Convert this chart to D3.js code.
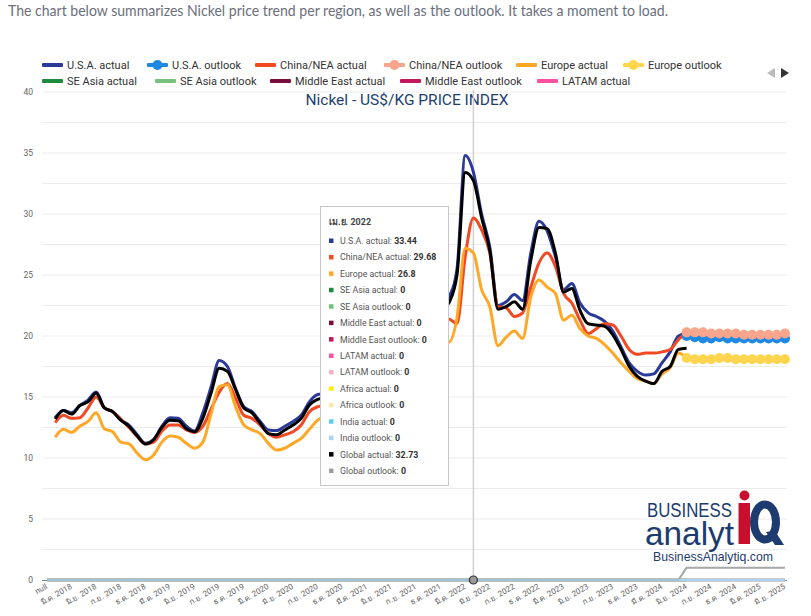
<!DOCTYPE html>
<html><head><meta charset="utf-8">
<script src="https://cdn.jsdelivr.net/npm/d3@7/dist/d3.min.js"></script>
<style>html,body{margin:0;padding:0;background:#fff;}svg{display:block;}</style>
</head><body>
<svg id="c" width="811" height="616"></svg>
<script>
// ---------- DATA ----------
const thMonths = ["ม.ค.","ก.พ.","มี.ค.","เม.ย.","พ.ค.","มิ.ย.","ก.ค.","ส.ค.","ก.ย.","ต.ค.","พ.ย.","ธ.ค."];
const categories = ["null"];
for (let y = 2018; y <= 2025; y++) for (let m = 0; m < 12; m++) { if (y === 2025 && m > 5) break; categories.push(thMonths[m] + " " + y); }
// actual series: Jan 2018 .. Jun 2024 (78 months)
const usaActual = [13.3,13.9,13.7,14.3,14.75,15.4,14.1,13.8,13.1,12.7,11.9,11.2,11.5,12.6,13.3,13.25,12.6,12.2,13.7,15.8,
 18.0,17.5,15.7,14.2,13.8,13.0,12.3,12.25,12.6,13.0,13.5,14.6,15.2,15.3,
 16.0,17.6,18.6,17.0,16.8,17.8,18.2,19.2,19.6,19.8,20.0,20.9,21.2,22.6,
 23.2,25.5,34.8,33.44,30.0,27.3,22.5,22.8,23.4,22.9,26.8,29.4,28.6,26.5,23.8,24.3,22.7,21.9,21.6,21.2,20.4,19.1,17.8,17.1,16.8,16.9,17.8,18.7,20.0,20.2];
const chinaActual = [12.9,13.5,13.25,13.3,14.1,15.0,14.1,13.8,13.2,12.5,11.75,11.15,11.3,12.2,12.7,12.7,12.3,12.1,12.6,14.0,
 15.4,16.1,14.9,13.5,13.25,12.7,12.0,11.7,11.9,12.15,12.7,13.8,14.2,14.35,
 15.0,16.3,17.2,16.0,15.8,16.6,17.0,18.0,18.4,18.6,18.8,19.6,19.9,21.0,
 21.4,21.0,26.5,29.68,28.7,26.8,22.4,22.3,21.6,21.9,24.0,26.0,26.8,25.7,23.5,22.7,21.3,20.2,20.6,21.0,20.9,20.0,18.9,18.5,18.6,18.6,18.7,18.9,19.7,20.3];
const europeActual = [11.7,12.35,12.1,12.6,13.0,13.7,12.4,12.15,11.3,11.15,10.4,9.85,10.25,11.3,11.8,11.7,11.2,10.8,11.3,13.6,
 15.85,16.0,14.2,12.7,12.3,12.0,11.2,10.65,10.8,11.2,11.6,12.35,13.1,13.5,
 14.2,15.4,16.2,15.0,14.8,15.6,16.0,17.0,17.4,17.6,17.8,18.6,18.9,19.8,
 19.5,21.5,27.2,26.8,23.8,22.4,19.2,19.9,20.4,19.8,23.2,24.6,24.0,23.5,21.3,21.7,20.6,20.0,19.8,19.3,18.6,17.8,17.1,16.5,16.3,16.1,16.9,17.4,18.6,18.2];
const globalActual = [13.2,13.9,13.6,14.3,14.6,15.3,14.1,13.8,13.1,12.6,11.8,11.15,11.5,12.5,13.1,13.05,12.4,12.15,13.25,15.3,
 17.35,17.1,15.6,14.1,13.7,12.85,12.0,11.9,12.3,12.7,13.25,14.35,14.8,15.0,
 15.7,17.2,18.2,16.7,16.5,17.5,17.9,18.9,19.3,19.5,19.7,20.5,20.8,22.0,
 22.7,25.0,33.4,32.73,29.7,27.0,22.2,22.4,22.8,22.2,26.2,28.9,28.8,26.8,23.6,23.9,22.1,21.0,20.9,20.8,20.1,18.9,17.5,16.7,16.3,16.1,17.1,17.5,18.9,19.0];
// outlook series: Jun 2024 .. Jun 2025 (13 months)
const usaOutlook    = [20.0,19.9,19.8,19.8,19.9,19.8,19.8,19.8,19.8,19.8,19.8,19.8,19.8];
const chinaOutlook  = [20.3,20.3,20.3,20.2,20.2,20.2,20.2,20.1,20.1,20.1,20.1,20.1,20.2];
const europeOutlook = [18.2,18.1,18.1,18.1,18.2,18.2,18.1,18.1,18.1,18.1,18.1,18.1,18.1];
const globalOutlookLevel = 1.0; // from Jun 2024 on, 0 before
const yTicks = [0,5,10,15,20,25,30,35,40];
const hoverIndex = 52; // เม.ย. 2022
const tooltipRows = [
 ["U.S.A. actual","33.44","#2b3a98"],["China/NEA actual","29.68","#f04923"],["Europe actual","26.8","#ffa726"],
 ["SE Asia actual","0","#1e8a3c"],["SE Asia outlook","0","#74c27c"],["Middle East actual","0","#7b0d3e"],
 ["Middle East outlook","0","#c2185b"],["LATAM actual","0","#ff4fa0"],["LATAM outlook","0","#f8b0cc"],
 ["Africa actual","0","#fff200"],["Africa outlook","0","#fde6ad"],["India actual","0","#5ecde6"],
 ["India outlook","0","#a6d4f7"],["Global actual","32.73","#000000"],["Global outlook","0","#a0a0a0"]];
const legendItems = [
 ["U.S.A. actual","#2b3a98",false],["U.S.A. outlook","#1e88e5",true],["China/NEA actual","#f04923",false],
 ["China/NEA outlook","#f8a58d",true],["Europe actual","#ffa726",false],["Europe outlook","#ffd54f",true],
 ["SE Asia actual","#1e8a3c",false],["SE Asia outlook","#74c27c",false],["Middle East actual","#7b0d3e",false],
 ["Middle East outlook","#c2185b",false],["LATAM actual","#ff4fa0",false]];

// ---------- SCALES ----------
const svg = d3.select("#c");
const x = d3.scalePoint().domain(categories).range([47, 785]);
const y = d3.scaleLinear().domain([0, 40]).range([580, 92]);
const xi = i => x(categories[i]);

// caption
svg.append("text").attr("x", 8).attr("y", 16).attr("font-family", "Lato, 'Open Sans', sans-serif")
  .attr("font-size", 15).attr("fill", "#6b6f7b").attr("textLength", 660).attr("lengthAdjust", "spacingAndGlyphs")
  .text("The chart below summarizes Nickel price trend per region, as well as the outlook. It takes a moment to load.");

// grid
const grid = svg.append("g");
d3.range(0, 40.01, 2.5).forEach(v => {
  grid.append("line").attr("x1", 42).attr("x2", 787).attr("y1", y(v)).attr("y2", y(v))
    .attr("stroke", "#ececec").attr("stroke-width", 1);
});
// y labels
svg.append("g").selectAll("text").data(yTicks).join("text")
  .attr("x", 33).attr("y", d => y(d) + 3).attr("text-anchor", "end")
  .attr("font-family", "Roboto, sans-serif").attr("font-size", 8.5).attr("fill", "#666").text(d => d);
// x axis line
svg.append("line").attr("x1", 42).attr("x2", 787).attr("y1", 580.5).attr("y2", 580.5).attr("stroke", "#888").attr("stroke-width", 1);
// x labels
svg.append("g").selectAll("text").data(d3.range(0, categories.length, 3)).join("text")
  .attr("transform", i => `translate(${xi(i) + 1},${588}) rotate(-30)`)
  .attr("text-anchor", "end").attr("font-family", "Roboto, 'Noto Sans', 'DejaVu Sans', sans-serif")
  .attr("font-size", 8).attr("fill", "#666").text(i => categories[i]);

// title
svg.append("text").attr("x", 407).attr("y", 105).attr("text-anchor", "middle")
  .attr("font-family", "Roboto, sans-serif").attr("font-size", 15.5).attr("fill", "#1d3f6e")
  .text("Nickel - US$/KG PRICE INDEX");

// hover line
svg.append("line").attr("x1", xi(hoverIndex)).attr("x2", xi(hoverIndex)).attr("y1", 90).attr("y2", 580)
  .attr("stroke", "#d0d0d0").attr("stroke-width", 1.5);

// ---------- LINES ----------
const line = d3.line().x(d => xi(d[0])).y(d => y(d[1])).curve(d3.curveMonotoneX);
const ser = (arr, start) => arr.map((v, k) => [start + k, v]);
const lastIdx = categories.length - 1;
const zeroSeries = (a, b) => d3.range(a, b + 1).map(i => [i, 0]);

// global outlook (grey) under the zero lines
const gOut = d3.range(0, lastIdx + 1).map(i => [i, i >= 78 ? globalOutlookLevel : 0]);
svg.append("path").attr("d", d3.line().x(d => xi(d[0])).y(d => y(d[1]))(gOut))
  .attr("fill", "none").attr("stroke", "#a8a8a8").attr("stroke-width", 2);
// zero lines
[["#1e8a3c",78],["#74c27c",lastIdx],["#7b0d3e",78],["#c2185b",lastIdx],["#ff4fa0",78],["#f8b0cc",lastIdx],
 ["#fff200",78],["#fde6ad",lastIdx],["#5ecde6",78],["#a6d4f7",lastIdx]].forEach(([c, e]) => {
  svg.append("path").attr("d", line(zeroSeries(0, e))).attr("fill", "none").attr("stroke", c).attr("stroke-width", 2.5);
});
// grey line again thinly over the baseline before the step
svg.append("path").attr("d", d3.line().x(d => xi(d[0])).y(d => y(d[1]))(gOut.filter(d => d[0] <= 78)))
  .attr("fill", "none").attr("stroke", "#9aa8ae").attr("stroke-width", 1.2).attr("opacity", 0.8);

const actual = [[usaActual,"#2b3a98"],[chinaActual,"#f04923"],[europeActual,"#ffa726"],[globalActual,"#000"]];
const outlook = [[usaOutlook,"#1e88e5"],[chinaOutlook,"#f8a58d"],[europeOutlook,"#ffd54f"]];
actual.slice(0, 3).forEach(([arr, c]) => {
  svg.append("path").attr("d", line(ser(arr, 1))).attr("fill", "none").attr("stroke", c).attr("stroke-width", 3)
    .attr("stroke-linejoin", "round");
});
outlook.forEach(([arr, c]) => {
  const g = svg.append("g");
  g.append("path").attr("d", line(ser(arr, 78))).attr("fill", "none").attr("stroke", c).attr("stroke-width", 3);
  g.selectAll("circle").data(ser(arr, 78)).join("circle").attr("cx", d => xi(d[0])).attr("cy", d => y(d[1]))
    .attr("r", 5).attr("fill", c);
});
svg.append("path").attr("d", line(ser(globalActual, 1))).attr("fill", "none").attr("stroke", "#000").attr("stroke-width", 3)
  .attr("stroke-linejoin", "round");

// hover point at baseline
svg.append("circle").attr("cx", xi(hoverIndex)).attr("cy", y(0)).attr("r", 4)
  .attr("fill", "#9a9a9a").attr("stroke", "#333").attr("stroke-width", 1.2);

// ---------- LEGEND ----------
const legendPos = [[42,65],[147,65],[255,65],[384,65],[516,65],[623,65],[42,81],[155,81],[270,81],[400,81],[537,81]];
const lg = svg.append("g").attr("font-family", "Roboto, sans-serif").attr("font-size", 11);
legendItems.forEach(([name, c, dot], k) => {
  const [lx, ly] = legendPos[k];
  lg.append("rect").attr("x", lx).attr("y", ly - 2).attr("width", 21).attr("height", 4).attr("rx", 1).attr("fill", c);
  if (dot) lg.append("circle").attr("cx", lx + 10.5).attr("cy", ly).attr("r", 5).attr("fill", c);
  lg.append("text").attr("x", lx + 25).attr("y", ly + 4).attr("fill", "#333").text(name);
});
svg.append("path").attr("d", "M775,68 L767,73 L775,78 Z").attr("fill", "#bbb");
svg.append("path").attr("d", "M781,68 L789,73 L781,78 Z").attr("fill", "#333");

// ---------- LOGO ----------
const logo = svg.append("g").attr("fill", "#1d3b6e").attr("font-family", "'Liberation Sans', Arial, sans-serif");
logo.append("text").attr("x", 647).attr("y", 517).attr("font-size", 20.5).attr("textLength", 85)
  .attr("lengthAdjust", "spacingAndGlyphs").text("BUSINESS");
logo.append("text").attr("x", 645).attr("y", 545).attr("font-size", 33).attr("textLength", 89)
  .attr("lengthAdjust", "spacingAndGlyphs").text("analyt");
svg.append("circle").attr("cx", 744.5).attr("cy", 495.5).attr("r", 5).attr("fill", "#c8102e");
svg.append("rect").attr("x", 738.5).attr("y", 503).attr("width", 11.5).attr("height", 41).attr("fill", "#c8102e");
svg.append("ellipse").attr("cx", 765).attr("cy", 522).attr("rx", 11).attr("ry", 17.5).attr("fill", "none")
  .attr("stroke", "#1d3b6e").attr("stroke-width", 8);
svg.append("path").attr("d", "M766,532 L775,545 L784,545 L775,531 Z").attr("fill", "#1d3b6e");
logo.append("text").attr("x", 653).attr("y", 561).attr("font-size", 13.5).attr("textLength", 120)
  .attr("lengthAdjust", "spacingAndGlyphs").text("BusinessAnalytiq.com");

// ---------- TOOLTIP ----------
const tt = svg.append("g").attr("font-family", "Roboto, 'Noto Sans', sans-serif");
tt.append("rect").attr("x", 320.5).attr("y", 206.5).attr("width", 128).attr("height", 279)
  .attr("fill", "#fff").attr("stroke", "#c8c8c8").attr("stroke-width", 1);
tt.append("text").attr("x", 329).attr("y", 225).attr("font-size", 9).attr("font-weight", "bold").attr("fill", "#444")
  .text(categories[hoverIndex]);
tooltipRows.forEach(([name, val, c], k) => {
  const ty = 241 + k * 16.43;
  tt.append("rect").attr("x", 329).attr("y", ty - 2.5).attr("width", 4.5).attr("height", 4.5).attr("fill", c);
  const t = tt.append("text").attr("x", 340).attr("y", ty + 3).attr("font-size", 8.8).attr("fill", "#555");
  t.append("tspan").text(name + ": ");
  t.append("tspan").attr("font-weight", "bold").attr("fill", "#333").text(val);
});
</script>
</body></html>
